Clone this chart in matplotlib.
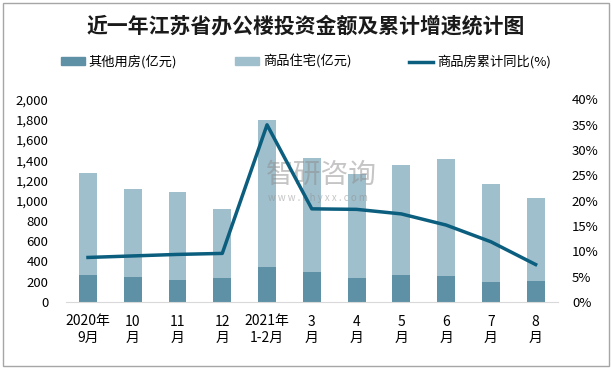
import numpy as np
import matplotlib.pyplot as plt
from matplotlib.patches import Rectangle
from matplotlib.lines import Line2D

plt.rcParams['font.family'] = ['Noto Sans CJK SC', 'DejaVu Sans']

months = ['2020年\n9月', '10\n月', '11\n月', '12\n月', '2021年\n1-2月',
          '3\n月', '4\n月', '5\n月', '6\n月', '7\n月', '8\n月']
other = [264, 244, 217, 237, 346, 296, 237, 267, 257, 198, 207]          # 其他用房
total = [1271, 1116, 1083, 918, 1797, 1420, 1264, 1353, 1412, 1162, 1027]
growth = [8.8, 9.1, 9.4, 9.6, 35.0, 18.4, 18.3, 17.4, 15.2, 11.9, 7.4]  # %
housing = [t - o for t, o in zip(total, other)]                           # 商品住宅

c_other = '#5E91A6'
c_house = '#A0BFCC'
c_line = '#0B5E7E'

fig = plt.figure(figsize=(6.12, 3.69), dpi=100)
W, H = 612, 369
ax = fig.add_axes([65.6 / W, 1 - 302 / H, (558 - 65.6) / W, (302 - 99.5) / H])

x = np.arange(len(months))
ax.bar(x, other, width=0.4, color=c_other, zorder=2)
ax.bar(x, housing, width=0.4, bottom=other, color=c_house, zorder=2)
ax.set_xlim(-0.5, len(months) - 0.5)
ax.set_ylim(0, 2000)
ax.set_yticks(range(0, 2001, 200))
ax.set_yticklabels([f'{v:,}' for v in range(0, 2001, 200)])
ax.set_xticks(x)
ax.set_xticklabels(months, linespacing=1.2)
ax.tick_params(axis='both', length=0, labelsize=9.5)
ax.tick_params(axis='x', labelsize=10, pad=9)
ax.tick_params(axis='y', pad=12.5)
for s in ['top', 'right', 'left']:
    ax.spines[s].set_visible(False)
ax.spines['bottom'].set_color('#D9D9D9')

# watermark
ax.text(0.519, 0.627, '智研咨询', transform=ax.transAxes, ha='center', va='center',
        fontsize=20, color='#8C8C8C', alpha=0.5, zorder=3)
ax.text(0.513, 0.514, 'w w w . c h y x x . c o m', transform=ax.transAxes,
        ha='center', va='center', fontsize=7, color='#8C8C8C', alpha=0.5, zorder=3)

ax2 = ax.twinx()
ax2.plot(x, growth, color=c_line, lw=2.5, zorder=4)
ax2.set_ylim(0, 40)
ax2.set_yticks(range(0, 41, 5))
ax2.set_yticklabels([f'{v}%' for v in range(0, 41, 5)])
ax2.tick_params(axis='y', length=0, labelsize=9.5, pad=10)
for s in ['top', 'right', 'left', 'bottom']:
    ax2.spines[s].set_visible(False)

fig.text(0.5, 1 - 26 / H, '近一年江苏省办公楼投资金额及累计增速统计图', ha='center',
         va='center', fontsize=15, fontweight='bold', color='#1A1A1A')

handles = [Rectangle((0, 0), 1, 1, color=c_other),
           Rectangle((0, 0), 1, 1, color=c_house),
           Line2D([0], [0], color=c_line, lw=2.5)]
labels = ['其他用房(亿元)', '商品住宅(亿元)', '商品房累计同比(%)']
fig.legend(handles, labels, loc='center', bbox_to_anchor=(0.5, 1 - 62 / H),
           ncol=3, frameon=False, fontsize=9.5, columnspacing=4.4,
           handlelength=1.8, handleheight=0.55, handletextpad=0.3)

fig.patches.append(Rectangle((3 / W, 3 / H), 606 / W, 363 / H, transform=fig.transFigure,
                             fill=False, edgecolor='#A6A6A6', lw=1))

fig.savefig('out.png', dpi=100)
